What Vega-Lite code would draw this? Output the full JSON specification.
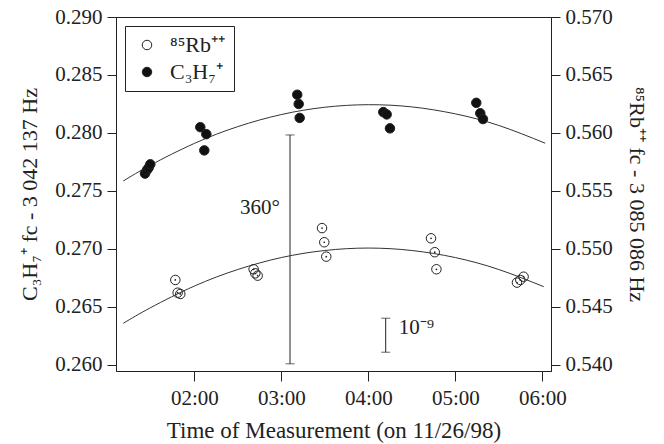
{
  "$schema": "https://vega.github.io/schema/vega-lite/v6.json",
  "width": 435,
  "height": 354,
  "autosize": {"type": "none"},
  "padding": {"left": 116, "top": 17, "right": 113, "bottom": 73},
  "background": "white",
  "config": {
    "view": {"stroke": "#222", "strokeWidth": 1},
    "font": "Liberation Serif",
    "axis": {
      "labelFont": "Liberation Serif", "titleFont": "Liberation Serif",
      "labelFontSize": 21, "titleFontSize": 22, "titleFontWeight": "normal",
      "labelColor": "#222", "titleColor": "#222", "domainColor": "#222", "tickColor": "#222",
      "grid": false, "tickSize": 9, "labelPadding": 5
    },
    "legend": {
      "orient": "top-left", "offset": 9, "strokeColor": "#222", "padding": 8,
      "labelFont": "Liberation Serif", "labelFontSize": 22, "labelColor": "#222",
      "rowPadding": 5, "labelOffset": 12, "symbolOffset": 3,
      "symbolStrokeColor": "#222", "symbolStrokeWidth": 1, "symbolSize": 90, "symbolType": "circle"
    }
  },
  "datasets": {
    "c3h7": [
      {"t": "1998-11-26T01:26:00", "v": 0.2765, "s": "C₃H₇⁺"},
      {"t": "1998-11-26T01:27:20", "v": 0.2768, "s": "C₃H₇⁺"},
      {"t": "1998-11-26T01:28:30", "v": 0.2770, "s": "C₃H₇⁺"},
      {"t": "1998-11-26T01:29:40", "v": 0.2773, "s": "C₃H₇⁺"},
      {"t": "1998-11-26T02:04:08", "v": 0.2805, "s": "C₃H₇⁺"},
      {"t": "1998-11-26T02:06:54", "v": 0.2785, "s": "C₃H₇⁺"},
      {"t": "1998-11-26T02:08:17", "v": 0.2799, "s": "C₃H₇⁺"},
      {"t": "1998-11-26T03:11:00", "v": 0.2833, "s": "C₃H₇⁺"},
      {"t": "1998-11-26T03:12:00", "v": 0.2825, "s": "C₃H₇⁺"},
      {"t": "1998-11-26T03:12:40", "v": 0.2813, "s": "C₃H₇⁺"},
      {"t": "1998-11-26T04:10:19", "v": 0.2818, "s": "C₃H₇⁺"},
      {"t": "1998-11-26T04:12:40", "v": 0.2816, "s": "C₃H₇⁺"},
      {"t": "1998-11-26T04:14:56", "v": 0.2804, "s": "C₃H₇⁺"},
      {"t": "1998-11-26T05:14:28", "v": 0.2826, "s": "C₃H₇⁺"},
      {"t": "1998-11-26T05:17:13", "v": 0.2817, "s": "C₃H₇⁺"},
      {"t": "1998-11-26T05:19:05", "v": 0.2812, "s": "C₃H₇⁺"}
    ],
    "rb": [
      {"t": "1998-11-26T01:46:55", "v": 0.54733, "s": "⁸⁵Rb⁺⁺"},
      {"t": "1998-11-26T01:48:30", "v": 0.54623, "s": "⁸⁵Rb⁺⁺"},
      {"t": "1998-11-26T01:50:20", "v": 0.54612, "s": "⁸⁵Rb⁺⁺"},
      {"t": "1998-11-26T02:40:55", "v": 0.54825, "s": "⁸⁵Rb⁺⁺"},
      {"t": "1998-11-26T02:42:04", "v": 0.54790, "s": "⁸⁵Rb⁺⁺"},
      {"t": "1998-11-26T02:43:41", "v": 0.54770, "s": "⁸⁵Rb⁺⁺"},
      {"t": "1998-11-26T03:28:05", "v": 0.55180, "s": "⁸⁵Rb⁺⁺"},
      {"t": "1998-11-26T03:29:38", "v": 0.55058, "s": "⁸⁵Rb⁺⁺"},
      {"t": "1998-11-26T03:31:01", "v": 0.54934, "s": "⁸⁵Rb⁺⁺"},
      {"t": "1998-11-26T04:43:16", "v": 0.55092, "s": "⁸⁵Rb⁺⁺"},
      {"t": "1998-11-26T04:45:50", "v": 0.54972, "s": "⁸⁵Rb⁺⁺"},
      {"t": "1998-11-26T04:46:59", "v": 0.54825, "s": "⁸⁵Rb⁺⁺"},
      {"t": "1998-11-26T05:42:32", "v": 0.54710, "s": "⁸⁵Rb⁺⁺"},
      {"t": "1998-11-26T05:44:49", "v": 0.54733, "s": "⁸⁵Rb⁺⁺"},
      {"t": "1998-11-26T05:47:06", "v": 0.54761, "s": "⁸⁵Rb⁺⁺"}
    ],
    "c3h7fit": [
      {"t": "1998-11-26T01:11:00", "v": 0.27586},
      {"t": "1998-11-26T01:30:00", "v": 0.27724},
      {"t": "1998-11-26T02:00:00", "v": 0.27910},
      {"t": "1998-11-26T02:30:00", "v": 0.28055},
      {"t": "1998-11-26T03:00:00", "v": 0.28159},
      {"t": "1998-11-26T03:30:00", "v": 0.28222},
      {"t": "1998-11-26T04:00:00", "v": 0.28244},
      {"t": "1998-11-26T04:30:00", "v": 0.28225},
      {"t": "1998-11-26T05:00:00", "v": 0.28165},
      {"t": "1998-11-26T05:30:00", "v": 0.28065},
      {"t": "1998-11-26T06:02:00", "v": 0.27912}
    ],
    "rbfit": [
      {"t": "1998-11-26T01:11:00", "v": 0.54359},
      {"t": "1998-11-26T01:30:00", "v": 0.54495},
      {"t": "1998-11-26T02:00:00", "v": 0.54680},
      {"t": "1998-11-26T02:30:00", "v": 0.54823},
      {"t": "1998-11-26T03:00:00", "v": 0.54926},
      {"t": "1998-11-26T03:30:00", "v": 0.54987},
      {"t": "1998-11-26T04:00:00", "v": 0.55008},
      {"t": "1998-11-26T04:30:00", "v": 0.54987},
      {"t": "1998-11-26T05:00:00", "v": 0.54926},
      {"t": "1998-11-26T05:30:00", "v": 0.54823},
      {"t": "1998-11-26T06:01:00", "v": 0.54675}
    ],
    "bars": [
      {"t": "1998-11-26T03:06:00", "v": 0.2601, "hi": 0.27983},
      {"t": "1998-11-26T04:12:00", "v": 0.2611, "hi": 0.26403}
    ],
    "labels": [
      {"t": "1998-11-26T02:59:00", "v": 0.2730, "label": "360°", "side": "r"},
      {"t": "1998-11-26T04:21:00", "v": 0.2627, "label": "10⁻⁹", "side": "l"}
    ]
  },
  "encoding": {
    "x": {
      "field": "t", "type": "temporal",
      "scale": {"domain": [
        {"year": 1998, "month": 11, "date": 26, "hours": 1, "minutes": 6},
        {"year": 1998, "month": 11, "date": 26, "hours": 6, "minutes": 6}
      ]},
      "axis": {
        "values": [
          {"year": 1998, "month": 11, "date": 26, "hours": 2},
          {"year": 1998, "month": 11, "date": 26, "hours": 3},
          {"year": 1998, "month": 11, "date": 26, "hours": 4},
          {"year": 1998, "month": 11, "date": 26, "hours": 5},
          {"year": 1998, "month": 11, "date": 26, "hours": 6}
        ],
        "format": "%H:%M", "tickSize": 10, "labelPadding": 6,
        "title": "Time of Measurement (on 11/26/98)", "titleFontSize": 23, "titlePadding": 11
      }
    }
  },
  "layer": [
    {
      "encoding": {
        "y": {
          "field": "v", "type": "quantitative",
          "scale": {"domain": [0.25948, 0.29], "nice": false, "zero": false},
          "axis": {
            "values": [0.26, 0.265, 0.27, 0.275, 0.28, 0.285, 0.29], "format": ".3f",
            "title": "C₃H₇⁺ fc - 3 042 137 Hz", "titlePadding": 13
          }
        }
      },
      "layer": [
        {
          "data": {"name": "c3h7fit"},
          "mark": {"type": "line", "interpolate": "natural", "color": "#333", "strokeWidth": 1}
        },
        {
          "data": {"name": "c3h7"},
          "mark": {"type": "point", "shape": "circle", "filled": true, "size": 90, "stroke": "#222", "strokeWidth": 1, "opacity": 1},
          "encoding": {
            "fill": {
              "field": "s", "type": "nominal",
              "scale": {"domain": ["⁸⁵Rb⁺⁺", "C₃H₇⁺"], "range": ["transparent", "#111"]},
              "legend": {"title": null}
            }
          }
        },
        {
          "data": {"name": "bars"},
          "mark": {"type": "rule", "color": "#222", "strokeWidth": 1},
          "encoding": {"y2": {"field": "hi"}}
        },
        {
          "data": {"name": "bars"},
          "mark": {"type": "tick", "orient": "horizontal", "color": "#222", "size": 9, "thickness": 1}
        },
        {
          "data": {"name": "bars"},
          "mark": {"type": "tick", "orient": "horizontal", "color": "#222", "size": 9, "thickness": 1},
          "encoding": {"y": {"field": "hi", "type": "quantitative", "title": "C₃H₇⁺ fc - 3 042 137 Hz"}}
        },
        {
          "data": {"name": "labels"},
          "transform": [{"filter": "datum.side == 'r'"}],
          "mark": {"type": "text", "align": "right", "baseline": "alphabetic", "font": "Liberation Serif", "fontSize": 21, "color": "#222"},
          "encoding": {"text": {"field": "label"}}
        },
        {
          "data": {"name": "labels"},
          "transform": [{"filter": "datum.side == 'l'"}],
          "mark": {"type": "text", "align": "left", "baseline": "alphabetic", "font": "Liberation Serif", "fontSize": 21, "color": "#222"},
          "encoding": {"text": {"field": "label"}}
        }
      ]
    },
    {
      "encoding": {
        "y": {
          "field": "v", "type": "quantitative",
          "scale": {"domain": [0.53948, 0.57], "nice": false, "zero": false},
          "axis": {
            "orient": "right",
            "values": [0.54, 0.545, 0.55, 0.555, 0.56, 0.565, 0.57], "format": ".3f",
            "title": "⁸⁵Rb⁺⁺ fc - 3 085 086 Hz", "titlePadding": 12
          }
        }
      },
      "layer": [
        {
          "data": {"name": "rbfit"},
          "mark": {"type": "line", "interpolate": "natural", "color": "#333", "strokeWidth": 1}
        },
        {
          "data": {"name": "rb"},
          "mark": {"type": "point", "shape": "circle", "filled": true, "size": 90, "stroke": "#222", "strokeWidth": 1, "opacity": 1},
          "encoding": {"fill": {"field": "s", "type": "nominal"}}
        },
        {
          "data": {"name": "rb"},
          "mark": {"type": "point", "shape": "circle", "filled": true, "size": 3, "fill": "#222", "strokeWidth": 0, "opacity": 1}
        }
      ]
    }
  ],
  "resolve": {"scale": {"y": "independent"}, "axis": {"y": "independent"}}
}
